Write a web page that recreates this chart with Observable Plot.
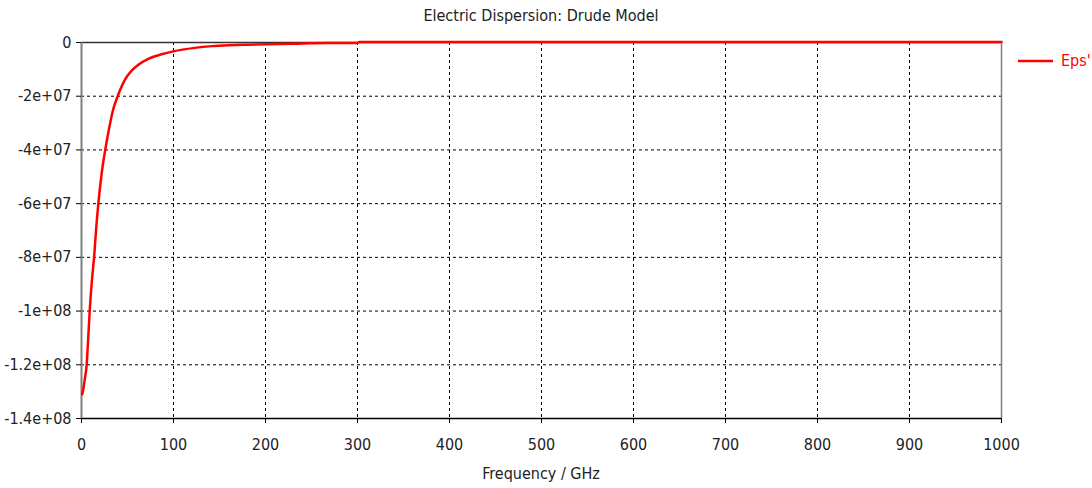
<!DOCTYPE html>
<html><head><meta charset="utf-8">
<script src="https://cdn.jsdelivr.net/npm/d3@7"></script>
<script src="https://cdn.jsdelivr.net/npm/@observablehq/plot@0.6"></script>
<style>
body{margin:0;background:#fff;}
#wrap{position:relative;width:1092px;height:488px;font-family:"Liberation Sans Narrow","DejaVu Sans Condensed",sans-serif;color:#222;}
#title{position:absolute;left:0;width:1082px;top:6px;text-align:center;font-size:16px;}
#xlabel{position:absolute;left:0;width:1082px;top:464px;text-align:center;font-size:16px;}
#legend{position:absolute;left:1018px;top:51px;display:flex;align-items:center;color:#ff0000;font-size:16px;}
#legend svg{margin-right:8px;}
#chart{position:absolute;left:0;top:0;}
</style></head><body>
<div id="wrap">
  <div id="chart"></div>
  <div id="title"></div>
  <div id="xlabel"></div>
  <div id="legend"><svg width="35" height="4"><line x1="0" y1="2" x2="35" y2="2" stroke="#ff0000" stroke-width="2.5"/></svg><span id="legtext"></span></div>
</div>
<script>
const titleText = "Electric Dispersion: Drude Model";
const xLabelText = "Frequency / GHz";
const seriesName = "Eps'";
const freqGHz = [0.8,2,3.5,5.6,7,8.9,11,13.9,16,18.3,22,26.3,30,34,39.3,41.8,47.3,54.5,61.8,72.6,87.1,99.8,123,141.5,160,180,200,230,268,300,302,400,500,600,700,800,900,1000];
const epsReal = [-1.31e8,-1.29e8,-1.255e8,-1.2e8,-1.12e8,-1.0e8,-9.0e7,-7.9e7,-6.9e7,-6.0e7,-4.85e7,-3.9e7,-3.2e7,-2.55e7,-2.0e7,-1.78e7,-1.38e7,-1.05e7,-8.3e6,-6.1e6,-4.4e6,-3.3e6,-2.0e6,-1.35e6,-1.0e6,-8e5,-6.5e5,-4.5e5,-2.2e5,-2e5,1.5e5,1.5e5,1.5e5,1.5e5,1.5e5,1.5e5,1.5e5,1.5e5];
const xTicks = [0,100,200,300,400,500,600,700,800,900,1000];
const yTicks = [0,-2e7,-4e7,-6e7,-8e7,-1e8,-1.2e8,-1.4e8];
const yTickLabels = ["0","-2e+07","-4e+07","-6e+07","-8e+07","-1e+08","-1.2e+08","-1.4e+08"];

const data = freqGHz.map((f,i)=>({f, v: epsReal[i]}));
document.getElementById("title").textContent = titleText;
document.getElementById("xlabel").textContent = xLabelText;
document.getElementById("legtext").textContent = seriesName;

const plot = Plot.plot({
  width:1092, height:488,
  marginLeft:81, marginRight:91, marginTop:42, marginBottom:70,
  style:{fontFamily:'"Liberation Sans Narrow","DejaVu Sans Condensed",sans-serif', fontSize:"16px", color:"#222", background:"#fff"},
  x:{domain:[0,1000], label:null},
  y:{domain:[-1.4e8,0], label:null},
  marks:[
    Plot.gridX(xTicks.filter(d=>d>0&&d<1000), {stroke:"#000", strokeOpacity:1, strokeDasharray:"3,3"}),
    Plot.gridY(yTicks.filter(d=>d<0&&d>-1.4e8), {stroke:"#000", strokeOpacity:1, strokeDasharray:"3,3"}),
    Plot.ruleY([0],{stroke:"#333", strokeWidth:1.5}),
    Plot.ruleY([-1.4e8],{stroke:"#000", strokeWidth:1.5}),
    Plot.ruleX([0],{stroke:"#808080", strokeWidth:2}),
    Plot.ruleX([1000],{stroke:"#808080", strokeWidth:1.5}),
    Plot.axisX({ticks:xTicks, tickSize:5, tickPadding:15, label:null, stroke:"#000", tickFormat:d=>String(d)}),
    Plot.axisY({ticks:yTicks, tickSize:5, tickPadding:5, label:null, stroke:"#000", tickFormat:d=>yTickLabels[yTicks.indexOf(d)]}),
    Plot.line(data,{x:"f", y:"v", stroke:"#ff0000", strokeWidth:2.5, curve:"monotone-x"})
  ]
});
document.getElementById("chart").appendChild(plot);
</script>
</body></html>
